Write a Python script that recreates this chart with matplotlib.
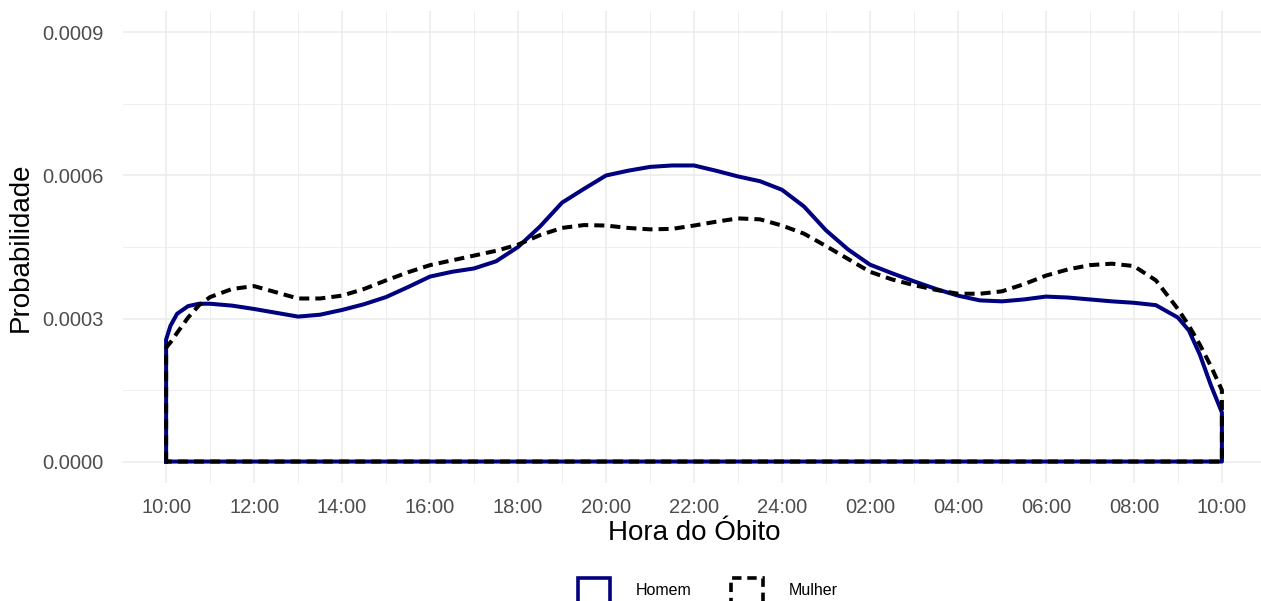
import numpy as np
import matplotlib.pyplot as plt
from matplotlib.patches import Patch

plt.rcParams['font.family'] = ['Liberation Sans', 'DejaVu Sans']

# Hours since 10:00 and density values (x1e-4)
hours_h = [0, 0.1, 0.25, 0.5, 0.75, 1, 1.5, 2, 2.5, 3, 3.5, 4, 4.5, 5, 5.5, 6,
           6.5, 7, 7.5, 8, 8.5, 9, 9.5, 10, 10.5, 11, 11.5, 12, 12.5, 13, 13.5,
           14, 14.5, 15, 15.5, 16, 16.5, 17, 17.5, 18, 18.5, 19, 19.5, 20,
           20.5, 21, 21.5, 22, 22.5, 23, 23.25, 23.5, 23.75, 24]
homem = [2.56, 2.85, 3.1, 3.26, 3.31, 3.31, 3.27, 3.2, 3.12, 3.04, 3.08, 3.18,
         3.3, 3.45, 3.66, 3.88, 3.98, 4.05, 4.2, 4.5, 4.93, 5.43, 5.72, 6.0,
         6.1, 6.18, 6.21, 6.21, 6.1, 5.98, 5.88, 5.7, 5.35, 4.85, 4.45, 4.13,
         3.95, 3.78, 3.62, 3.48, 3.38, 3.36, 3.4, 3.46, 3.44, 3.4, 3.36, 3.33,
         3.28, 3.02, 2.75, 2.24, 1.6, 1.03]

hours_m = [0, 0.1, 0.25, 0.5, 0.75, 1, 1.5, 2, 2.5, 3, 3.5, 4, 4.5, 5, 5.5, 6,
           6.5, 7, 7.5, 8, 8.5, 9, 9.5, 10, 10.5, 11, 11.5, 12, 12.5, 13, 13.5,
           14, 14.5, 15, 15.5, 16, 16.5, 17, 17.5, 18, 18.5, 19, 19.5, 20,
           20.5, 21, 21.5, 22, 22.5, 23, 23.25, 23.5, 23.75, 24]
mulher = [2.39, 2.5, 2.7, 3.02, 3.28, 3.45, 3.62, 3.68, 3.55, 3.42, 3.42, 3.48,
          3.62, 3.8, 3.97, 4.12, 4.22, 4.32, 4.42, 4.55, 4.75, 4.9, 4.96, 4.95,
          4.9, 4.87, 4.88, 4.95, 5.03, 5.1, 5.08, 4.95, 4.78, 4.52, 4.25, 3.98,
          3.82, 3.7, 3.6, 3.52, 3.52, 3.57, 3.72, 3.9, 4.03, 4.12, 4.15, 4.1,
          3.8, 3.2, 2.85, 2.45, 2.0, 1.5]

tick_labels = ['10:00', '12:00', '14:00', '16:00', '18:00', '20:00', '22:00',
               '24:00', '02:00', '04:00', '06:00', '08:00', '10:00']

W, H = 1261, 601
fig = plt.figure(figsize=(W / 100, H / 100), dpi=100)
ax = fig.add_axes([123 / W, 118 / H, 1142 / W, 472 / H])


def outline(h, v):
    h = np.array(h)
    v = np.array(v) * 1e-4
    xs = np.concatenate([[h[0]], h, [h[-1], h[0]]])
    ys = np.concatenate([[0], v, [0, 0]])
    return xs, ys


xs, ys = outline(hours_h, homem)
ax.plot(xs, ys, color='#000080', lw=2.9, solid_joinstyle='round', zorder=3)
xs, ys = outline(hours_m, mulher)
ax.plot(xs, ys, color='black', lw=2.9, linestyle=(0, (2.5, 1.5)), zorder=4)

ax.set_xlim(-0.98, 24.98)
ax.set_ylim(-0.000045, 0.000945)
ax.set_xticks(np.arange(0, 25, 2))
ax.set_xticklabels(tick_labels)
ax.set_xticks(np.arange(1, 24, 2), minor=True)
ax.set_yticks([0, 0.0003, 0.0006, 0.0009])
ax.set_yticklabels(['0.0000', '0.0003', '0.0006', '0.0009'])
ax.set_yticks([0.00015, 0.00045, 0.00075], minor=True)

ax.grid(which='major', color='#EBEBEB', lw=1.1)
ax.grid(which='minor', color='#EBEBEB', lw=0.6)
ax.set_axisbelow(True)
for s in ax.spines.values():
    s.set_visible(False)
ax.tick_params(which='both', length=0)
ax.tick_params(axis='y', labelsize=14.5, labelcolor='#4D4D4D', pad=14)
ax.tick_params(axis='x', labelsize=14.5, labelcolor='#4D4D4D', pad=11)

ax.set_xlabel('Hora do Óbito', fontsize=20, labelpad=2)
ax.set_ylabel('Probabilidade', fontsize=20, labelpad=6)

handles = [Patch(facecolor='none', edgecolor='#000080', lw=2.6),
           Patch(facecolor='none', edgecolor='black', lw=2.6, linestyle=(0, (2.6, 1.6)))]
fig.legend(handles, ['Homem', 'Mulher'], loc='center', ncol=2,
           bbox_to_anchor=(708 / W, 1 - 590 / H), frameon=False, fontsize=11.5,
           handlelength=2.0, handleheight=2.0, handletextpad=1.6, columnspacing=2.5)

fig.savefig('out.png', dpi=100)
